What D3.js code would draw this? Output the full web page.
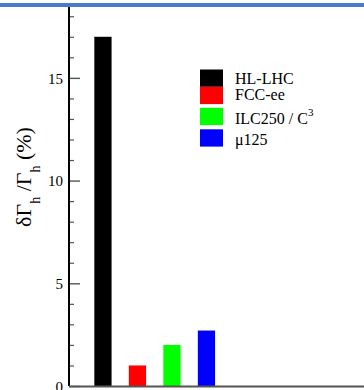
<!DOCTYPE html>
<html>
<head>
<meta charset="utf-8">
<script src="https://cdn.jsdelivr.net/npm/d3@7"></script>
<style>
  html, body { margin: 0; padding: 0; background: #fff; }
  svg { display: block; font-family: "Liberation Serif", "Times New Roman", serif; }
</style>
</head>
<body>
<svg id="chart" width="364" height="390"></svg>
<script>
// Projected precision on the Higgs total width, per collider
const colliders = ["HL-LHC", "FCC-ee", "ILC250 / C3", "μ125"];
const widthPrecision = [17, 1, 2, 2.7];
const barColors = ["#000000", "#ff0000", "#00ff00", "#0000ff"];
const majorTicks = [0, 5, 10, 15];
const minorTicks = d3.range(0, 19, 1);

const svg = d3.select("#chart");
const W = 364, H = 390;
const axisX = 69, axisBottom = 386, axisTop = 7;

// banner strip across the top
svg.append("rect").attr("x", 0).attr("y", 3).attr("width", W).attr("height", 4)
  .attr("fill", "#4a7acb");

const y = d3.scaleLinear().domain([0, 18.45]).range([axisBottom, axisTop]);
const x = d3.scaleBand().domain(colliders).range([85.7, 223.7])
  .paddingInner(0.5).paddingOuter(0.25);

// bars
svg.append("g").selectAll("rect")
  .data(colliders)
  .join("rect")
  .attr("x", d => x(d))
  .attr("width", x.bandwidth())
  .attr("y", (d, i) => y(widthPrecision[i]))
  .attr("height", (d, i) => y(0) - y(widthPrecision[i]))
  .attr("fill", (d, i) => barColors[i]);

// y axis: minor ticks inward
const yMinor = d3.axisRight(y).tickValues(minorTicks.filter(v => !majorTicks.includes(v)))
  .tickSize(5).tickFormat("");
const gMinor = svg.append("g").attr("transform", `translate(${axisX},0)`).call(yMinor);
gMinor.select(".domain").remove();
gMinor.selectAll("line").attr("stroke", "#555").attr("stroke-width", 1.2);

// y axis: major ticks inward with labels on the left
const yMajor = d3.axisRight(y).tickValues(majorTicks).tickSize(11).tickFormat(d3.format("d"));
const gMajor = svg.append("g").attr("transform", `translate(${axisX},0)`).call(yMajor);
gMajor.select(".domain").remove();
gMajor.selectAll("line").attr("stroke", "#555").attr("stroke-width", 1.4);
gMajor.selectAll("text")
  .attr("x", -6).attr("dy", "0.35em")
  .attr("text-anchor", "end")
  .attr("font-family", "Liberation Serif, Times New Roman, serif")
  .attr("font-size", 15).attr("fill", "#000");

// axis lines
svg.append("line").attr("x1", axisX).attr("x2", axisX).attr("y1", axisTop).attr("y2", axisBottom)
  .attr("stroke", "#000").attr("stroke-width", 2);
svg.append("line").attr("x1", axisX).attr("x2", W).attr("y1", axisBottom + 0.5).attr("y2", axisBottom + 0.5)
  .attr("stroke", "#555").attr("stroke-width", 2);

// y axis title
const title = svg.append("text")
  .attr("transform", `translate(31,177) rotate(-90)`)
  .attr("text-anchor", "middle")
  .attr("font-size", 22).attr("fill", "#000");
title.append("tspan").text("δΓ");
title.append("tspan").attr("dy", 9).attr("font-size", 14).text("h");
title.append("tspan").attr("dy", -9).text(" /Γ");
title.append("tspan").attr("dy", 9).attr("font-size", 14).text("h");
title.append("tspan").attr("dy", -9).text(" (%)");

// legend
const legendY = [69.5, 86.8, 107.8, 129.3];
const legendBase = [14, 13.5, 16, 15.5];
const legend = svg.append("g");
colliders.forEach((name, i) => {
  legend.append("rect").attr("x", 200).attr("y", legendY[i])
    .attr("width", 23).attr("height", 17.3).attr("fill", barColors[i]);
  const t = legend.append("text").attr("x", 235).attr("y", legendY[i] + legendBase[i])
    .attr("font-size", 16).attr("fill", "#000");
  if (name === "ILC250 / C3") {
    t.append("tspan").text("ILC250 / C");
    t.append("tspan").attr("dy", -8).attr("font-size", 11).text("3");
  } else {
    t.text(name);
  }
});
</script>
</body>
</html>
